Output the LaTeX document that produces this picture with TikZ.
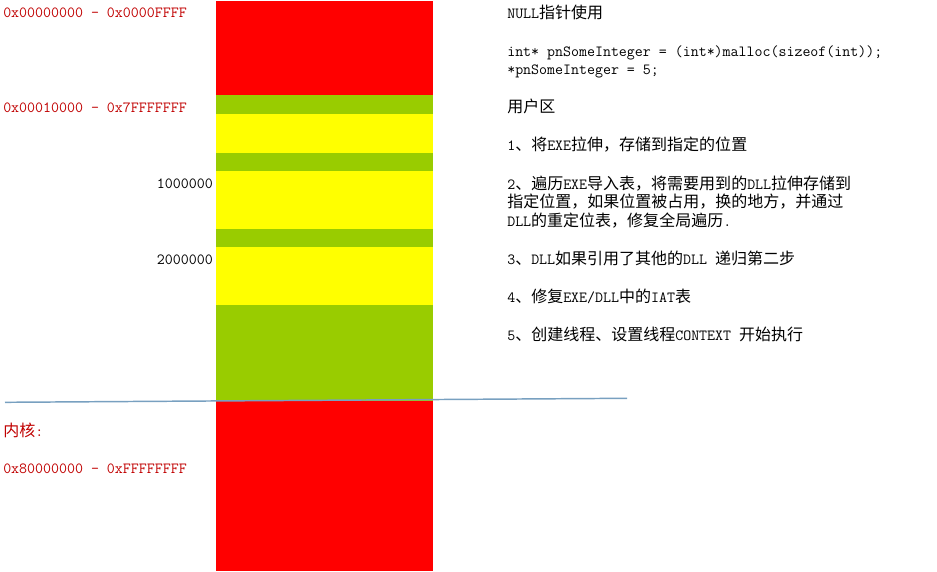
\documentclass[tikz,border=0pt]{standalone}
\usepackage{fontspec}
\newfontfamily\zhraw[Scale=1.033]{Noto Sans CJK SC}
\newcommand{\zh}{\zhraw}
\definecolor{barred}{RGB}{255,0,0}
\definecolor{bargreen}{RGB}{153,204,0}
\definecolor{baryellow}{RGB}{255,255,0}
\definecolor{labelred}{RGB}{192,0,0}
\definecolor{sepblue}{RGB}{120,160,192}
\tikzset{
  every node/.style={font=\ttfamily\fontsize{11.62}{13}\selectfont},
  txt/.style={anchor=base west, inner sep=0pt, text=black},
  rtxt/.style={anchor=base east, inner sep=0pt, text=black},
  addr/.style={txt, text=labelred},
}
\begin{document}
\begin{tikzpicture}[x=0.75pt,y=-0.75pt]
\useasboundingbox (0,0) rectangle (937,571);
% memory bar
\fill[barred]    (216,1)     rectangle (433,95);
\fill[bargreen]  (216,95)    rectangle (433,114);
\fill[baryellow] (216,114)   rectangle (433,152.7);
\fill[bargreen]  (216,152.7) rectangle (433,170.7);
\fill[baryellow] (216,170.7) rectangle (433,229);
\fill[bargreen]  (216,229)   rectangle (433,247);
\fill[baryellow] (216,247)   rectangle (433,305);
\fill[bargreen]  (216,305)   rectangle (433,400.7);
\fill[barred]    (216,400.7) rectangle (433,571);
% separator
\coordinate (lineL) at (5,402.3);
\coordinate (lineR) at (627,398.3);
\draw[sepblue, line width=1.1pt] (lineL) -- (lineR);
% left labels
\node[addr] (a0) at (3,17) {0x00000000 - 0x0000FFFF};
\node[addr] (a1) at (3,112) {0x00010000 - 0x7FFFFFFF};
\node[rtxt] (m1) at (213,188) {1000000};
\node[rtxt] (m2) at (213,264) {2000000};
\node[addr] (k0) at (3,436) {{\zh 内核}:};
\node[addr] (k1) at (3,473) {0x80000000 - 0xFFFFFFFF};
% right text
\node[txt] (t0) at (507,18) {NULL{\zh 指针使用}};
\node[txt] (t1) at (507,56) {int* pnSomeInteger = (int*)malloc(sizeof(int));};
\node[txt] (t2) at (507,74) {*pnSomeInteger = 5;};
\node[txt] (t3) at (507,112) {{\zh 用户区}};
\node[txt] (t4) at (507,150) {1{\zh 、将}EXE{\zh 拉伸，存储到指定的位置}};
\node[txt] (t5) at (507,189) {2{\zh 、遍历}EXE{\zh 导入表，将需要用到的}DLL{\zh 拉伸存储到}};
\node[txt] (t6) at (507,207.5) {{\zh 指定位置，如果位置被占用，换的地方，并通过}};
\node[txt] (t7) at (507,226) {DLL{\zh 的重定位表，修复全局遍历}.};
\node[txt] (t8) at (507,264) {3{\zh 、}DLL{\zh 如果引用了其他的}DLL {\zh 递归第二步}};
\node[txt] (t9) at (507,302) {4{\zh 、修复}EXE/DLL{\zh 中的}IAT{\zh 表}};
\node[txt] (t10) at (507,340) {5{\zh 、创建线程、设置线程}CONTEXT {\zh 开始执行}};
\end{tikzpicture}
\end{document}
